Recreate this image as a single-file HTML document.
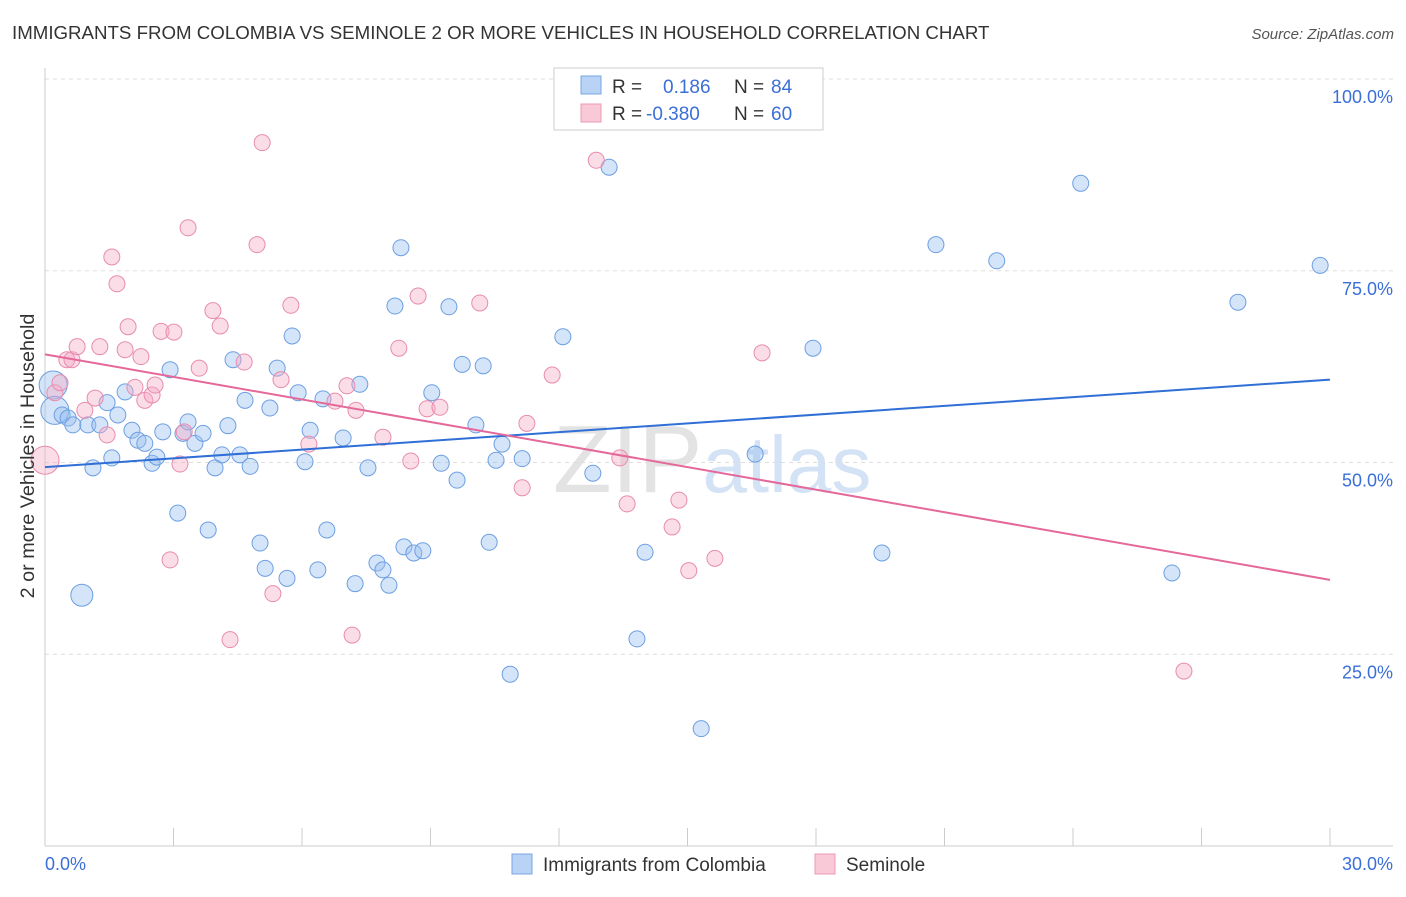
<!DOCTYPE html>
<html><head><meta charset="utf-8"><style>
body{margin:0;background:#fff;font-family:"Liberation Sans",sans-serif}
svg text{font-family:"Liberation Sans",sans-serif}
</style></head><body>
<svg id="chart" width="1406" height="892" viewBox="0 0 1406 892">
<text x="12" y="39" font-size="18.7" fill="#333">IMMIGRANTS FROM COLOMBIA VS SEMINOLE 2 OR MORE VEHICLES IN HOUSEHOLD CORRELATION CHART</text>
<text x="1394" y="39" font-size="15" fill="#555" text-anchor="end" font-style="italic">Source: ZipAtlas.com</text>
<text x="553" y="492" font-size="96" fill="#ddd" font-family="Liberation Serif" opacity="0.8">ZIP<tspan fill="#c9dbf2" font-family="Liberation Sans" font-size="80">atlas</tspan></text>
<g id="grid"></g>
<g id="axes"></g>
<g id="pts"></g>
<g id="trends"></g>
<text transform="translate(34,456) rotate(-90)" font-size="19.8" fill="#333" text-anchor="middle">2 or more Vehicles in Household</text>
<text x="45" y="870" font-size="18" fill="#3a6fd8">0.0%</text>
<text x="1393" y="870" font-size="18" fill="#3a6fd8" text-anchor="end">30.0%</text>
<g>
<rect x="554" y="68" width="269" height="62" fill="#fff" stroke="#ccc"/>
<rect x="581" y="76" width="20" height="18" fill="#b8d3f5" stroke="#7aa6e3"/>
<rect x="581" y="104" width="20" height="18" fill="#f9c9d8" stroke="#ec9ab5"/>
<text x="612" y="93" font-size="19" fill="#333">R =</text>
<text x="663" y="93" font-size="19" fill="#3a6fd8">0.186</text>
<text x="734" y="93" font-size="19" fill="#333">N =</text>
<text x="771" y="93" font-size="19" fill="#3a6fd8">84</text>
<text x="612" y="120" font-size="19" fill="#333">R =</text>
<text x="646" y="120" font-size="19" fill="#3a6fd8">-0.380</text>
<text x="734" y="120" font-size="19" fill="#333">N =</text>
<text x="771" y="120" font-size="19" fill="#3a6fd8">60</text>
</g>
<g>
<rect x="512" y="854" width="20" height="20" fill="#b8d3f5" stroke="#7aa6e3"/>
<text x="543" y="871" font-size="19" fill="#333">Immigrants from Colombia</text>
<rect x="815" y="854" width="20" height="20" fill="#f9c9d8" stroke="#ec9ab5"/>
<text x="846" y="871" font-size="19" fill="#333">Seminole</text>
</g>
</svg>
<script>
const yTicks=[25,50,75,100];
const yTickLabels=["25.0%","50.0%","75.0%","100.0%"];
const xTicks=[0,3,6,9,12,15,18,21,24,27,30];
const blueX=[0.19,0.23,0.40,0.54,0.65,0.86,1.00,1.12,1.28,1.45,1.56,1.70,1.87,2.03,2.17,2.33,2.50,2.61,2.75,2.92,3.10,3.22,3.34,3.50,3.69,3.81,3.97,4.13,4.27,4.39,4.55,4.67,4.79,5.02,5.14,5.25,5.42,5.65,5.77,5.91,6.07,6.19,6.37,6.49,6.58,6.96,7.24,7.35,7.54,7.75,7.89,8.03,8.17,8.31,8.38,8.61,8.82,9.03,9.25,9.43,9.62,9.74,10.06,10.23,10.37,10.53,10.67,10.86,11.14,12.09,12.79,13.17,13.82,14.01,15.32,16.58,17.93,19.54,20.80,22.22,24.18,26.31,27.85,29.77];
const blueY=[60.1,56.8,56.2,55.8,54.9,32.7,54.9,49.3,54.9,57.8,50.6,56.2,59.2,54.2,52.9,52.5,49.9,50.7,54.0,62.1,43.4,53.8,55.3,52.5,53.8,41.2,49.3,51.0,54.8,63.4,51.0,58.1,49.5,39.5,36.2,57.1,62.3,34.9,66.5,59.1,50.1,54.2,36.0,58.3,41.2,53.2,34.2,60.2,49.3,36.9,36.0,34.0,70.4,78.0,39.0,38.2,38.5,59.1,49.9,70.3,47.7,62.8,54.9,62.6,39.6,50.3,52.4,22.4,50.5,66.4,48.6,88.5,27.0,38.3,15.3,51.1,64.9,38.2,78.4,76.3,86.4,35.6,70.9,75.7];
const pinkX=[0,0.23,0.35,0.51,0.63,0.75,0.93,1.17,1.28,1.45,1.56,1.68,1.87,1.94,2.10,2.24,2.33,2.50,2.57,2.71,2.92,3.01,3.15,3.25,3.34,3.60,3.92,4.09,4.32,4.65,4.95,5.07,5.32,5.51,5.74,6.16,6.77,7.05,7.17,7.26,7.89,8.26,8.54,8.71,8.92,9.22,10.15,11.14,11.25,11.84,12.87,13.42,13.59,14.64,14.80,15.03,15.64,16.74,26.59];
const pinkY=[50.3,59.1,60.4,63.4,63.4,65.1,56.8,58.4,65.1,53.6,76.8,73.3,64.7,67.7,59.8,63.8,58.1,58.8,60.1,67.1,37.3,67.0,49.8,54.0,80.6,62.3,69.8,67.8,26.9,63.1,78.4,91.7,32.9,60.8,70.5,52.4,58.0,60.0,27.5,56.8,53.3,64.9,50.2,71.7,57.0,57.2,70.8,46.7,55.1,61.4,89.4,50.6,44.6,41.6,45.1,35.9,37.5,64.3,22.8];
const blueBig=[1,1,0,0,0,0.5];
const pinkBig=[1];
const blueTrend=[49.4,60.8];
const pinkTrend=[64.1,34.7];
const X0=45,X1=1330,Y0=846,Y100=79;
const sx=v=>X0+(v/30)*(X1-X0);
const sy=v=>Y0-(v/100)*(Y0-Y100);
const NS="http://www.w3.org/2000/svg";
function mk(tag,attrs,parent){const e=document.createElementNS(NS,tag);for(const k in attrs)e.setAttribute(k,attrs[k]);parent.appendChild(e);return e;}
const grid=document.getElementById('grid'),axes=document.getElementById('axes'),pts=document.getElementById('pts'),tr=document.getElementById('trends');
yTicks.forEach((t,i)=>{
 const l=mk('line',{x1:X0,x2:1393,y1:sy(t),y2:sy(t),stroke:'#ddd','stroke-dasharray':'4,4'},grid);
 
 
 const tx=mk('text',{x:1393,y:sy(t)+24,'font-size':18,fill:'#3a6fd8','text-anchor':'end'},grid);
 tx.textContent=yTickLabels[i];
 
 
});
const ya=mk('line',{x1:X0,x2:X0,y1:68,y2:Y0,stroke:'#ccc'},axes);


const xa=mk('line',{x1:X0,x2:1393,y1:Y0,y2:Y0,stroke:'#ccc'},axes);


xTicks.forEach(t=>{
 const l=mk('line',{x1:sx(t),x2:sx(t),y1:Y0,y2:828,stroke:'#ccc'},axes);
 
 
});
function draw(xs,ys,big,fill,stroke,name){
 xs.forEach((x,i)=>{
  const r=big[i]?8+big[i]*6:8;
  const c=mk('circle',{cx:sx(x),cy:sy(ys[i]),r:r,fill:fill,stroke:stroke,'stroke-width':1},pts);
  
  
 });
}
draw(blueX,blueY,blueBig,'rgba(150,190,240,0.4)','#6d9fe2','colombia-point');
draw(pinkX,pinkY,pinkBig,'rgba(245,170,198,0.4)','#e88cae','seminole-point');
const bl=mk('line',{x1:sx(0),x2:sx(30),y1:sy(blueTrend[0]),y2:sy(blueTrend[1]),stroke:'#2f6fd6','stroke-width':2},tr);


const pl=mk('line',{x1:sx(0),x2:sx(30),y1:sy(pinkTrend[0]),y2:sy(pinkTrend[1]),stroke:'#e5689a','stroke-width':2},tr);


</script>
</body></html>
